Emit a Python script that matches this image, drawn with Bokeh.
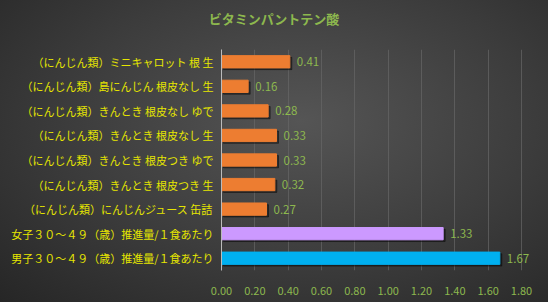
from bokeh.plotting import figure
from bokeh.models import ColumnDataSource, FixedTicker, NumeralTickFormatter, Range1d, LabelSet, Div
from bokeh.layouts import column
from bokeh.transform import dodge
from bokeh.core.properties import value
from bokeh.embed import file_html
from bokeh.resources import INLINE

title = "ビタミンパントテン酸"
categories = [
    "（にんじん類）ミニキャロット 根 生",
    "（にんじん類）島にんじん 根皮なし 生",
    "（にんじん類）きんとき 根皮なし ゆで",
    "（にんじん類）きんとき 根皮なし 生",
    "（にんじん類）きんとき 根皮つき ゆで",
    "（にんじん類）きんとき 根皮つき 生",
    "（にんじん類）にんじんジュース 缶詰",
    "女子３０～４９（歳）推進量/１食あたり",
    "男子３０～４９（歳）推進量/１食あたり",
]
values = [0.41, 0.16, 0.28, 0.33, 0.33, 0.32, 0.27, 1.33, 1.67]
bar_colors = ["#ED7D31"] * 7 + ["#CC99FF", "#00B0F0"]
labels = ["%.2f" % v for v in values]
x_ticks = [0.0, 0.2, 0.4, 0.6, 0.8, 1.0, 1.2, 1.4, 1.6, 1.8]
x_max = 1.8

FONT = "Noto Sans CJK JP"
GREEN = "#8DB84E"

src = ColumnDataSource(dict(cat=categories, val=values, color=bar_colors, label=labels))

head = Div(text=title, width=548, height=36, margin=0,
           styles={"text-align": "center", "color": GREEN, "font-family": FONT,
                   "font-size": "13px", "font-weight": "bold", "line-height": "18px",
                   "padding-top": "10px", "box-sizing": "border-box", "width": "548px",
                   "height": "36px", "overflow": "hidden"})

# frame runs to the right edge so the last value label is not clipped;
# 300 px of frame correspond to the axis maximum 1.80
frame_px = 548 - 221 - 3
p = figure(
    width=548, height=266,
    y_range=list(reversed(categories)),
    x_range=Range1d(0, x_max * frame_px / 300.0),
    output_backend="svg", toolbar_location=None,
    min_border_left=221, min_border_right=3, min_border_top=13, min_border_bottom=32,
)
p.margin = 0
p.background_fill_alpha = 0
p.border_fill_alpha = 0
p.outline_line_color = None

# soft shadow behind bars
p.hbar(y=dodge("cat", -0.07, range=p.y_range), left=0.012, right=dodge("val", 0.012),
       height=0.5, color="#000000", alpha=0.4, source=src)
p.hbar(y="cat", right="val", left=0, height=0.5, color="color", source=src)

p.add_layout(LabelSet(x="val", y="cat", text="label", source=src, x_offset=7,
                      text_baseline="middle", text_align="left", text_color=GREEN,
                      text_font=value(FONT), text_font_size=value("11.5px")))

p.xaxis.ticker = FixedTicker(ticks=x_ticks)
p.xaxis.formatter = NumeralTickFormatter(format="0.00")
p.xaxis.axis_line_color = None
p.xaxis.major_tick_line_color = None
p.xaxis.minor_tick_line_color = None
p.xaxis.major_label_text_color = GREEN
p.xaxis.major_label_text_font = FONT
p.xaxis.major_label_text_font_size = "11px"
p.xaxis.major_label_standoff = 10

p.yaxis.axis_line_color = "#BBBBBB"
p.yaxis.major_tick_line_color = None
p.yaxis.major_tick_out = 0
p.yaxis.minor_tick_line_color = None
p.yaxis.major_label_text_color = "#E6E600"
p.yaxis.major_label_text_font = FONT
p.yaxis.major_label_text_font_size = "11px"
p.yaxis.major_label_standoff = 8

p.xgrid.grid_line_color = "#666666"
p.xgrid.grid_line_alpha = 0.7
p.ygrid.grid_line_color = None

layout = column(head, p, spacing=0, margin=0,
                styles={"background": "radial-gradient(ellipse at 55% 40%, #555555 0%, #3c3c3c 55%, #262626 100%)"})

open("out.html", "w").write(file_html(layout, INLINE))
